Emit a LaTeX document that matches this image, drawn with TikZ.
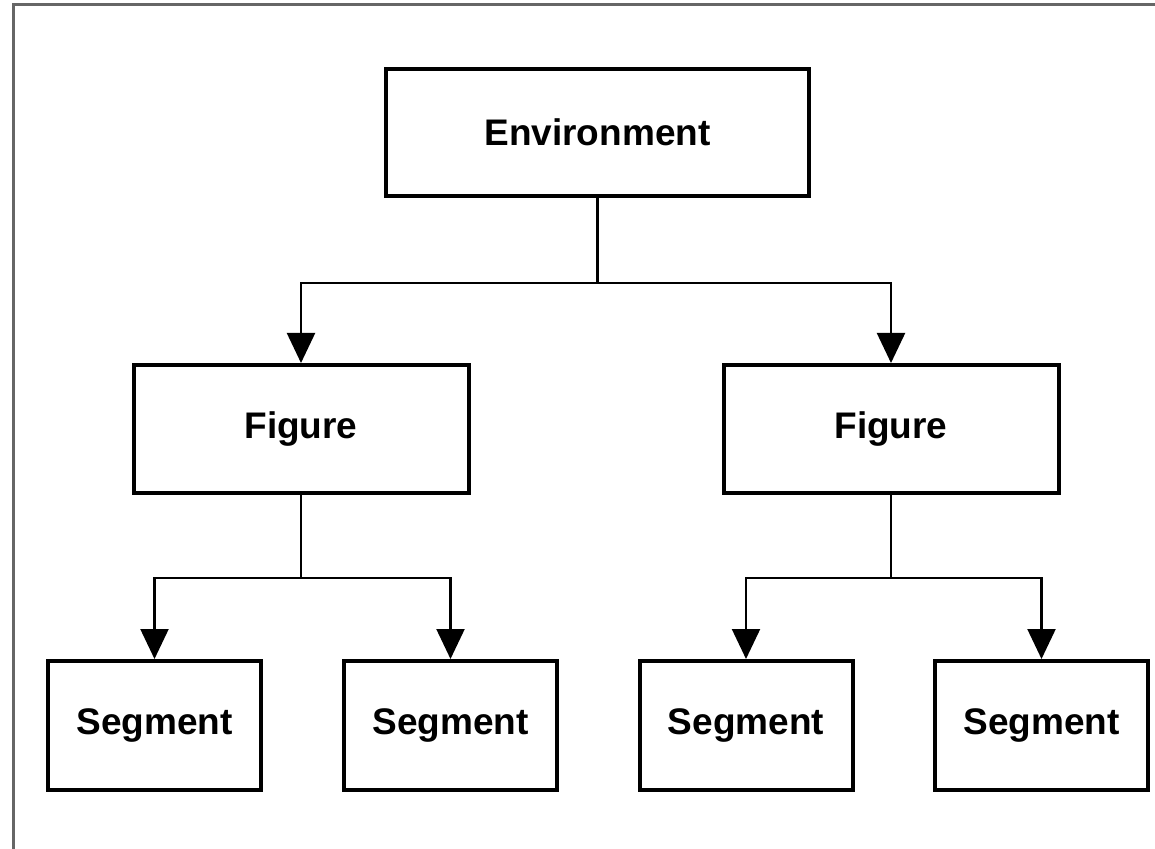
\documentclass[tikz,border=0pt]{standalone}
\usepackage{fontspec}
\setmainfont{Liberation Sans}
\usetikzlibrary{arrows.meta}
\begin{document}
\begin{tikzpicture}[x=0.5pt,y=-0.5pt,
  box/.style={draw, line width=2pt, inner sep=0pt,
    font=\bfseries\fontsize{18.5}{22}\selectfont},
  envbox/.style={box, minimum width=211.5pt, minimum height=63.5pt},
  figbox/.style={box, minimum width=167.5pt, minimum height=64pt},
  segbox/.style={box, minimum width=106.5pt, minimum height=64.5pt},
  conn/.style={line width=1.1pt},
  arr/.style={conn, -{Triangle[length=15pt,width=14pt]}},
  frame/.style={line width=1.5pt, black!60}]
\useasboundingbox (0,0) rectangle (1155,849);
\draw[frame] (13,849) -- (13,5) -- (1155,5);

\node[envbox] (env) at (597.5,132.5) {Environment};
\node[figbox] (figL) at (301,429) {Figure};
\node[figbox] (figR) at (891,429) {Figure};
\node[segbox] (s1) at (154.5,725.5) {Segment};
\node[segbox] (s2) at (450.5,725.5) {Segment};
\node[segbox] (s3) at (746,725.5) {Segment};
\node[segbox] (s4) at (1041.5,725.5) {Segment};

\coordinate (j0) at (597.5,283);
\coordinate (jL) at (301,578);
\coordinate (jR) at (891,578);

\draw[conn] (env.south) -- (j0);
\draw[arr] (j0) -| (figL.north);
\draw[arr] (j0) -| (figR.north);

\draw[conn] (figL.south) -- (jL);
\draw[arr] (jL) -| (s1.north);
\draw[arr] (jL) -| (s2.north);

\draw[conn] (figR.south) -- (jR);
\draw[arr] (jR) -| (s3.north);
\draw[arr] (jR) -| (s4.north);
\end{tikzpicture}
\end{document}
